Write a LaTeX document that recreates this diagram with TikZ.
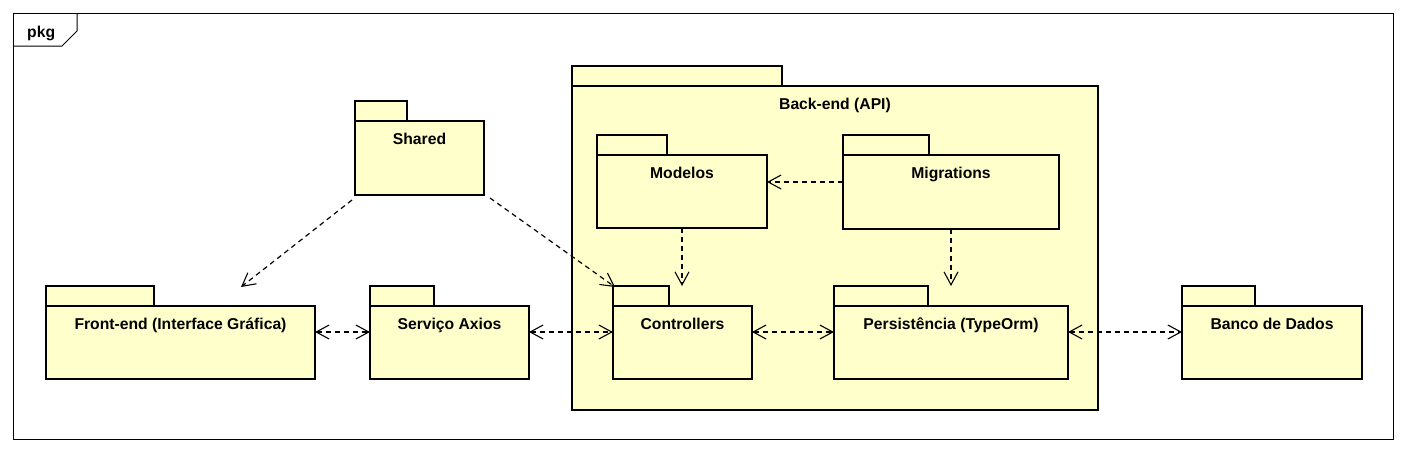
\documentclass[tikz,border=0pt]{standalone}
\usepackage{fontspec}
\setmainfont{Liberation Sans}
\usetikzlibrary{arrows.meta,calc}
\definecolor{pkgfill}{HTML}{FFFFCC}
\tikzset{
  pkgbody/.style={draw=black, line width=2.6pt, fill=pkgfill, rectangle, inner sep=0pt, outer sep=0pt},
  pkgtab/.style={draw=black, line width=2.6pt, fill=pkgfill, rectangle, inner sep=0pt, outer sep=0pt, minimum height=20pt},
  pkglabel/.style={anchor=base, inner sep=0pt, font=\bfseries\fontsize{15.7}{18}\selectfont},
  dep/.style={draw=black, line width=1.2pt, dash pattern=on 5pt off 4pt, -{Straight Barb[length=13pt,width=14pt,line width=1.1pt]}},
  bidep/.style={draw=black, line width=1.2pt, dash pattern=on 5pt off 4pt, {Straight Barb[length=13pt,width=14pt,line width=1.1pt]}-{Straight Barb[length=13pt,width=14pt,line width=1.1pt]}}
}
\newcommand\umlpkg[6]{%
  \node[pkgbody, minimum width=#3pt, minimum height=#4pt, anchor=north west] (#1) at #2 {};
  \node[pkgtab, minimum width=#5pt, anchor=south west] (#1tab) at (#1.north west) {};
  \node[pkglabel] (#1lbl) at ($(#1.north)+(0,23.5)$) {#6};
}
\begin{document}
\begin{tikzpicture}[x=1pt,y=-1pt]
  \useasboundingbox[fill=white] (0,0) rectangle (1406,453);
  % frame
  \node[draw=black, line width=1pt, rectangle, inner sep=0pt, outer sep=0pt, minimum width=1380pt, minimum height=426pt, anchor=north west] (frame) at (13,13) {};
  \draw[line width=1pt] ($(frame.north west)+(64,0)$) -- ++(0,18) -- ++(-15,15) -- (frame.west |- 0,46);
  \node[pkglabel, anchor=base west] (framelbl) at (27,37) {pkg};
  % packages
  \umlpkg{backend}{(572,86)}{526}{324}{210}{Back-end (API)}
  \umlpkg{shared}{(355,121)}{129}{74}{52}{Shared}
  \umlpkg{modelos}{(597,155)}{170}{73}{70}{Modelos}
  \umlpkg{migr}{(843,155)}{216}{74}{86}{Migrations}
  \umlpkg{ctrl}{(613,306)}{139}{73}{56}{Controllers}
  \umlpkg{pers}{(834,306)}{234}{73}{94}{Persistência (TypeOrm)}
  \umlpkg{banco}{(1182,306)}{180}{73}{73}{Banco de Dados}
  \umlpkg{fe}{(46,306)}{269}{73}{108}{Front-end (Interface Gráfica)}
  \umlpkg{axios}{(370,306)}{159}{73}{64}{Serviço Axios}
  % dependencies
  \draw[dep] ($(shared.south west)+(-3,5)$) -- ($(fe.north west)+(195,-19)$);
  \draw[dep] ($(shared.south east)+(6,3)$) -- ($(ctrltab.north west)+(2,1)$);
  \draw[dep] (modelos.south) -- (modelos.south |- ctrltab.north);
  \draw[dep] ($(migr.north west)+(0,27)$) -- ($(modelos.north east)+(0,27)$);
  \draw[dep] (migr.south) -- (migr.south |- perstab.north);
  \draw[bidep] ($(fe.north east)+(0,26)$) -- ($(axios.north west)+(0,26)$);
  \draw[bidep] ($(axios.north east)+(0,26)$) -- ($(ctrl.north west)+(0,26)$);
  \draw[bidep] ($(ctrl.north east)+(0,26)$) -- ($(pers.north west)+(0,26)$);
  \draw[bidep] ($(pers.north east)+(0,26)$) -- ($(banco.north west)+(0,26)$);
\end{tikzpicture}
\end{document}
